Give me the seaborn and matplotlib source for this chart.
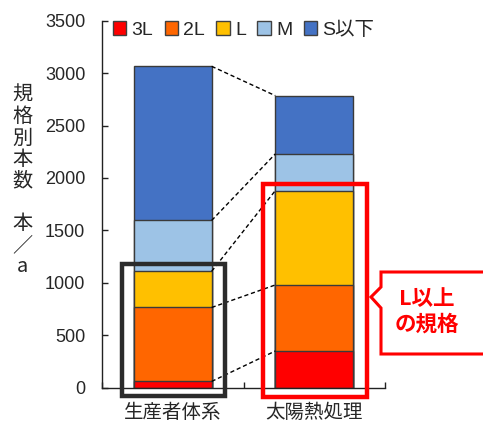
import matplotlib
matplotlib.use("Agg")
import matplotlib.pyplot as plt
from matplotlib.patches import Rectangle, Polygon, Patch
import seaborn as sns
import numpy as np
import pandas as pd

# ---- data ----
categories = ["生産者体系", "太陽熱処理"]
grades = ["3L", "2L", "L", "M", "S以下"]
val_3L = [60, 350]
val_2L = [705, 630]
val_L = [345, 900]
val_M = [485, 350]
val_S = [1470, 555]
yticks = [0, 500, 1000, 1500, 2000, 2500, 3000, 3500]
ylabel = "規\n格\n別\n本\n数\n\n本\n／\na"
callout = "L以上\nの規格"
colors = ["#FF0000", "#FF6600", "#FFC000", "#9DC3E6", "#4472C4"]

sns.set_style("ticks")
FAM = ["Liberation Sans", "Noto Sans CJK JP", "DejaVu Sans"]
plt.rcParams["font.family"] = FAM

W, H = 483, 423
fig = plt.figure(figsize=(W / 100, H / 100), dpi=100)
ax_l, ax_r, ax_b, ax_t = 102, 385, 387.7, 20.7
ax = fig.add_axes([ax_l / W, 1 - ax_b / H, (ax_r - ax_l) / W, (ax_b - ax_t) / H])

series = [val_3L, val_2L, val_L, val_M, val_S]
cum = np.cumsum(np.array(series), axis=0)  # shape (5, 2)
bar_w = 0.55

# draw from top layer down so that lower segments overlay upper ones
for i in range(len(grades) - 1, -1, -1):
    df = pd.DataFrame({"cat": categories, "val": cum[i]})
    sns.barplot(data=df, x="cat", y="val", color=colors[i], width=bar_w,
                edgecolor="#3a3a3a", linewidth=1.0, saturation=1, ax=ax)

# dashed connectors between segment tops
for i in range(len(grades)):
    ax.plot([0 + bar_w / 2, 1 - bar_w / 2], [cum[i][0], cum[i][1]],
            color="black", lw=1.0, ls=(0, (3, 2)), zorder=3)

ax.set_xlim(-0.5, 1.5)
ax.set_ylim(0, 3500)
ax.set_yticks(yticks)
ax.set_xlabel("")
ax.set_ylabel("")
for s in ["top", "right"]:
    ax.spines[s].set_visible(False)
for s in ["left", "bottom"]:
    ax.spines[s].set_color("#222222")
    ax.spines[s].set_linewidth(1.0)

ax.tick_params(axis="y", direction="in", length=4, width=1, color="#222222",
               labelsize=13, pad=12)
ax.tick_params(axis="x", which="major", length=0, pad=10)
ax.set_xticks([-0.5, 0.5, 1.5], minor=True)
ax.tick_params(axis="x", which="minor", direction="in", length=4, width=1,
               color="#222222")
for lab in ax.get_xticklabels():
    lab.set_fontsize(14)
    lab.set_family(["Noto Sans CJK JP"])

# highlight rectangles (annotation shapes)
ax.add_patch(Rectangle((-0.361, -82), 0.729, 1262, fill=False,
                       edgecolor="#2b2b2b", lw=3.2, clip_on=False, zorder=5))
ax.add_patch(Rectangle((0.641, -84), 0.729, 2027, fill=False,
                       edgecolor="#FF0000", lw=3.2, clip_on=False, zorder=5))

# legend
handles = [Patch(facecolor=c, edgecolor="#404040", lw=1.0) for c in colors]
leg = ax.legend(handles, grades, ncol=5, loc="center",
                bbox_to_anchor=(0.5, (ax_b - 30) / (ax_b - ax_t)),
                frameon=False, handlelength=0.7, handleheight=0.7,
                handletextpad=0.25, columnspacing=0.6, fontsize=14,
                borderaxespad=0)

# y label (vertical stacked characters)
fig.text(22 / W, 1 - 181 / H, ylabel, ha="center", va="center",
         fontsize=14.5, linespacing=1.03, family=["Noto Sans CJK JP"])

# callout box
pts = [(381, 272), (495, 272), (495, 354), (381, 354), (381, 308),
       (371, 297), (381, 287)]
poly = Polygon([(x / W, 1 - y / H) for x, y in pts], closed=True,
               transform=fig.transFigure, facecolor="white",
               edgecolor="#FF0000", lw=2.2, clip_on=False)
fig.add_artist(poly)
fig.text(427 / W, 1 - 311 / H, callout, ha="center", va="center",
         fontsize=15.5, fontweight="bold", color="#FF0000",
         linespacing=1.25, family=["Noto Sans CJK JP"])

fig.savefig("out.png", dpi=100)
